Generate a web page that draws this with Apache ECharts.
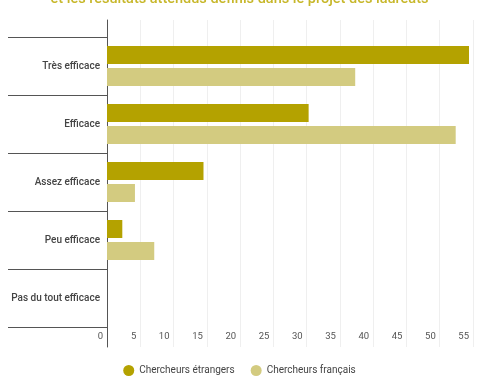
<!DOCTYPE html>
<html><head><meta charset="utf-8">
<script src="https://cdn.jsdelivr.net/npm/echarts@6/dist/echarts.min.js"></script>
<style>html,body{margin:0;padding:0;background:#fff}#c{width:479px;height:376px}</style>
</head><body><div id="c"></div>
<script>
const titleText = "et les résultats attendus définis dans le projet des lauréats";
const categories = ["Très efficace", "Efficace", "Assez efficace", "Peu efficace", "Pas du tout efficace"];
const seriesNames = ["Chercheurs étrangers", "Chercheurs français"];
const etrangers = [54.4, 30.3, 14.5, 2.3, 0];
const francais = [37.3, 52.4, 4.2, 7.1, 0];
const xMin = 0, xMax = 55, xStep = 5;
const colors = ["#b4a200", "#d3cb80"];

const chart = echarts.init(document.getElementById('c'), null, {renderer: 'canvas'});
const font = 'Roboto';
chart.setOption({
  animation: false,
  textStyle: {fontFamily: font},
  title: {
    text: titleText, left: 'center', top: -13, padding: [5, 5, 5, 5],
    textStyle: {fontSize: 14.5, fontWeight: 500, color: '#c7b72a', fontFamily: font}
  },
  legend: {
    bottom: 0, left: 'center', padding: 0, icon: 'circle', itemWidth: 11, itemHeight: 11, itemGap: 16,
    textStyle: {fontSize: 10, color: '#444', fontFamily: font},
    data: seriesNames
  },
  grid: [
    {left: 107, right: 6, top: 37, bottom: 49},
    {left: 107, right: 6, top: 20, bottom: 29}
  ],
  xAxis: [
    {gridIndex: 0, type: 'value', min: xMin, max: xMax, interval: xStep,
      axisLine: {show: false}, axisTick: {show: false}, splitLine: {show: false},
      axisLabel: {fontSize: 9.5, color: '#555', align: 'right', padding: [0, 4, 0, 0], margin: 5, fontFamily: font}},
    {gridIndex: 1, type: 'value', min: xMin, max: xMax, interval: xStep,
      axisLine: {show: false}, axisTick: {show: false}, axisLabel: {show: false},
      splitLine: {show: true, lineStyle: {color: '#efefef', width: 1}}}
  ],
  yAxis: [
    {gridIndex: 0, type: 'category', data: categories, inverse: true,
      axisLine: {show: false},
      axisTick: {show: true, length: 99, lineStyle: {color: '#555', width: 1}},
      axisLabel: {fontSize: 10, color: '#444', margin: 7, fontWeight: 500, fontFamily: font},
      splitLine: {show: false}},
    {gridIndex: 1, type: 'value', min: 0, max: 1,
      axisLine: {show: true, lineStyle: {color: '#555', width: 1}},
      axisTick: {show: false}, axisLabel: {show: false}, splitLine: {show: false}}
  ],
  series: [
    {name: seriesNames[0], type: 'bar', xAxisIndex: 0, yAxisIndex: 0, data: etrangers,
      barWidth: 18, barGap: '22%', itemStyle: {color: colors[0]}},
    {name: seriesNames[1], type: 'bar', xAxisIndex: 0, yAxisIndex: 0, data: francais,
      barWidth: 18, barGap: '22%', itemStyle: {color: colors[1]}}
  ]
});
</script></body></html>
